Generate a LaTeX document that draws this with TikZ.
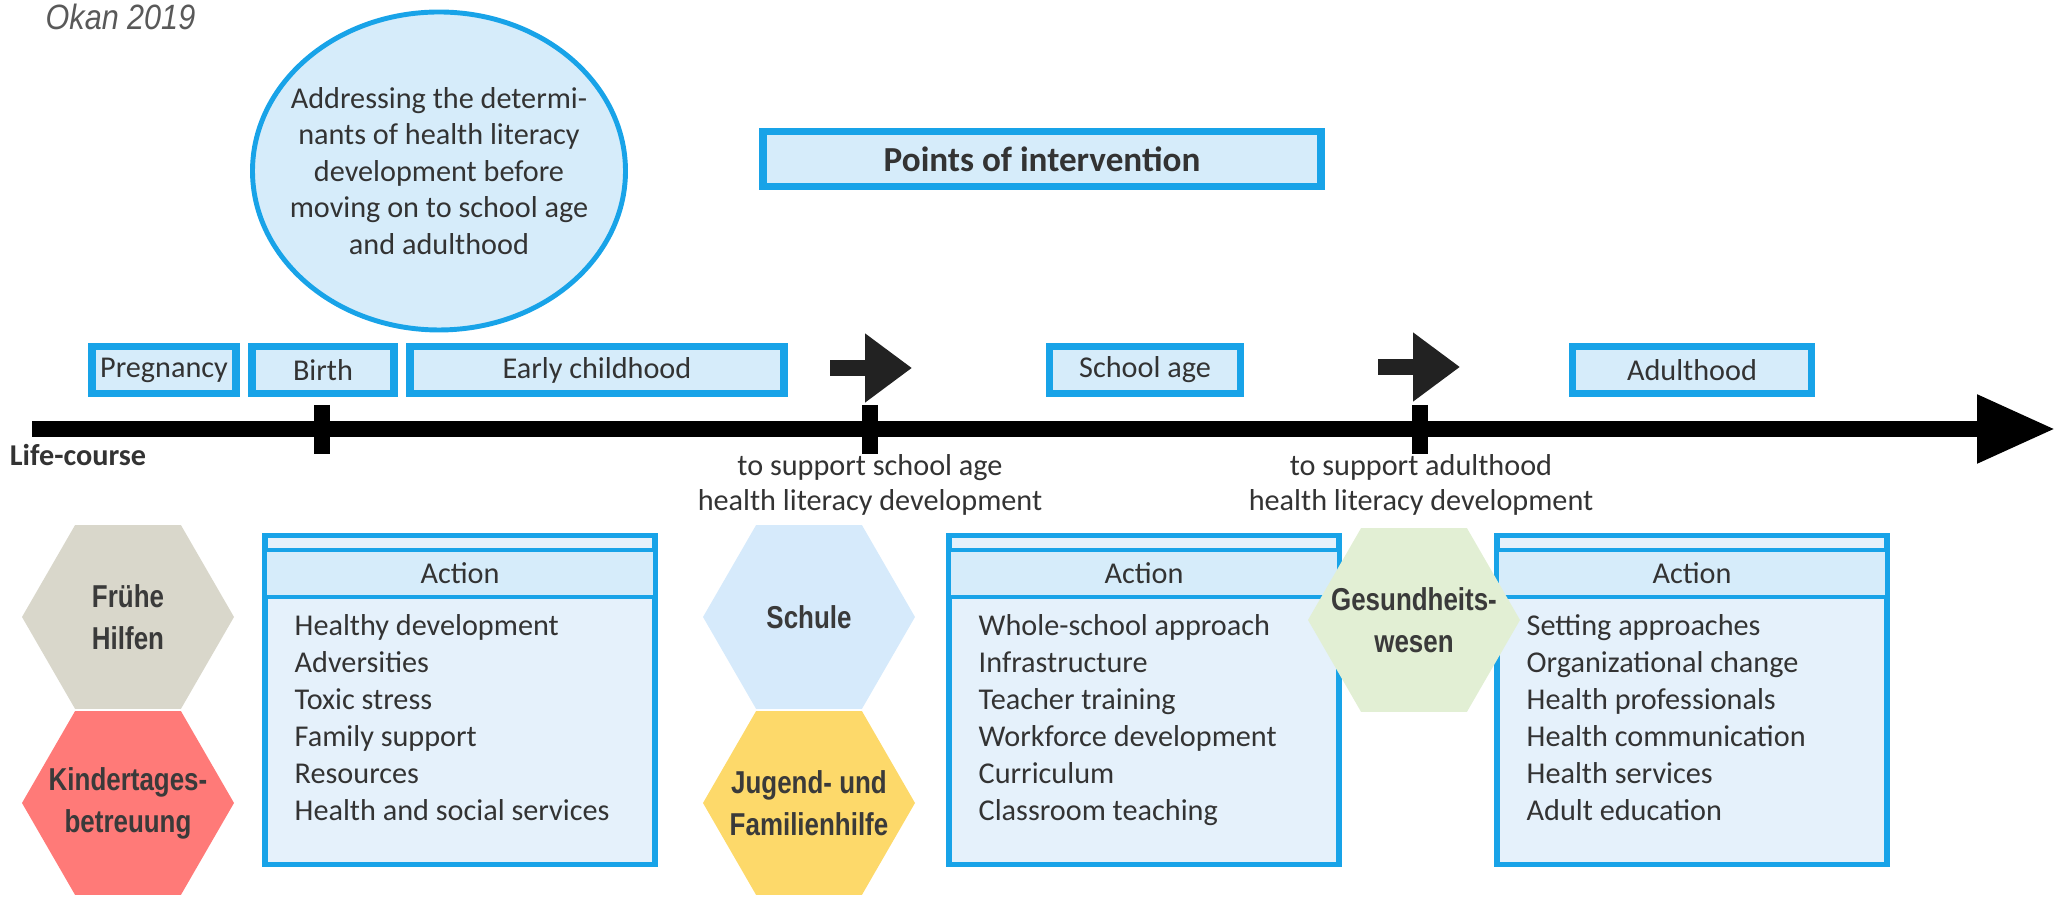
\documentclass[tikz,border=0pt]{standalone}
\usepackage{fontspec}
\setmainfont{Carlito}
\newfontfamily\narrowfont[FakeStretch=0.82]{Liberation Sans}
\newfontfamily\citefont[FakeStretch=0.87]{Liberation Sans}
\usepackage{tikz}
\usetikzlibrary{arrows.meta,shapes.geometric,positioning}
\usepackage{xcolor}
\definecolor{hlblue}{RGB}{24,163,232}
\definecolor{hllightblue}{RGB}{214,236,250}
\definecolor{hlpaleblue}{RGB}{229,241,251}
\definecolor{hltext}{RGB}{51,51,51}
\definecolor{hlarrow}{RGB}{34,34,34}
\definecolor{hexgray}{RGB}{58,58,58}
\definecolor{hexbeige}{RGB}{217,215,203}
\definecolor{hexred}{RGB}{255,122,120}
\definecolor{hexblue}{RGB}{214,234,251}
\definecolor{hexyellow}{RGB}{253,217,106}
\definecolor{hexgreen}{RGB}{226,239,212}
\tikzstyle{stage} = [rectangle, draw=hlblue, fill=hllightblue, line width=2pt, minimum height=4.7mm, inner sep=0pt, text=hltext, font=\fontsize{8.6}{10.4}\selectfont]
\tikzstyle{bubble} = [ellipse, draw=hlblue, fill=hllightblue, line width=1.4pt, minimum width=37.3mm, minimum height=31.8mm, inner sep=0pt]
\tikzstyle{bubbletext} = [align=center, inner sep=0pt, text=hltext, font=\fontsize{8.6}{10.4}\selectfont]
\tikzstyle{headline} = [rectangle, draw=hlblue, fill=hllightblue, line width=2pt, minimum width=55.8mm, minimum height=5.5mm, inner sep=0pt, text=hltext, font=\fontsize{10}{12}\selectfont\bfseries]
\tikzstyle{actionbox} = [rectangle, draw=hlblue, fill=hlpaleblue, line width=1.7pt, minimum width=39mm, minimum height=32.9mm, inner sep=0pt]
\tikzstyle{actionhead} = [rectangle, draw=hlblue, fill=hllightblue, line width=1.4pt, minimum width=39mm, minimum height=4.7mm, inner sep=0pt, text=hltext, font=\fontsize{8.6}{10.4}\selectfont]
\tikzstyle{actionlist} = [anchor=north west, align=left, inner sep=0pt, text=hltext, font=\fontsize{8.6}{10.5}\selectfont]
\tikzstyle{hexa} = [regular polygon, regular polygon sides=6, minimum size=21.2mm, inner sep=0pt]
\tikzstyle{hexlabel} = [align=center, inner sep=0pt, text=hexgray, font=\narrowfont\bfseries\fontsize{9}{12}\selectfont]
\tikzstyle{note} = [align=center, inner sep=0pt, text=hltext, font=\fontsize{8.6}{10.2}\selectfont]
\tikzstyle{timeline} = [line width=4.3pt, -{Triangle[length=7.8mm,width=6.5mm]}]
\tikzstyle{milestone} = [line width=4.3pt]
\tikzstyle{nudge} = [line width=4.5pt, color=hlarrow, -{Triangle[length=4.7mm,width=6.6mm]}]

\begin{document}
\begin{tikzpicture}[x=0.1mm, y=-0.1mm]
\useasboundingbox (0,0) rectangle (2061,901);

% Source
\node (okan) [anchor=west, inner sep=0pt, text=black!65, font=\citefont\itshape\fontsize{10}{12}\selectfont] at (45,17) {Okan 2019};

% Bubble and title
\node (determinants) [bubble] at (439,171) {};
\node (determinantstext) [bubbletext] at (determinants.center) {Addressing the determi-\\nants of health literacy\\development before\\moving on to school age\\and adulthood};
\node (points) [headline] at (1042,159) {Points of intervention};

% Life stages
\node (pregnancy) [stage, minimum width=14.4mm] at (164,370) {Pregnancy};
\node (birth) [stage, minimum width=14.2mm] at (323,370) {Birth};
\node (early) [stage, minimum width=37.4mm] at (597,370) {Early childhood};
\node (school) [stage, minimum width=19.1mm] at (1145,370) {School age};
\node (adult) [stage, minimum width=23.9mm] at (1692,370) {Adulthood};

% Life-course axis
\coordinate (lcstart) at (32,429);
\coordinate (lcend) at (2055,429);
\draw[timeline] (lcstart) -- (lcend);
\node (lifecourse) [note, font=\fontsize{8.6}{10.2}\selectfont\bfseries] at (78,455) {Life-course};

% Milestones
\coordinate (birthtop) at (322,405);
\coordinate (birthbot) at (322,454);
\coordinate (schooltop) at (870,405);
\coordinate (schoolbot) at (870,454);
\coordinate (adulttop) at (1420,405);
\coordinate (adultbot) at (1420,454);
\draw[milestone] (birthtop) -- (birthbot);
\draw[milestone] (schooltop) -- (schoolbot);
\draw[milestone] (adulttop) -- (adultbot);

% Transition arrows
\coordinate (toschoolA) at (830,368);
\coordinate (toschoolB) at (912,368);
\coordinate (toadultA) at (1378,367);
\coordinate (toadultB) at (1460,367);
\draw[nudge] (toschoolA) -- (toschoolB);
\draw[nudge] (toadultA) -- (toadultB);

\node (supportschool) [note] at (870,485) {to support school age\\health literacy development};
\node (supportadult) [note] at (1421,485) {to support adulthood\\health literacy development};

% Action boxes
\node (act1) [actionbox] at (460,700) {};
\node (act1head) [actionhead, below=1.5mm of act1.north] {Action};
\node (act1list) [actionlist] at (294,614) {Healthy development\\Adversities\\Toxic stress\\Family support\\Resources\\Health and social services};

\node (act2) [actionbox] at (1144,700) {};
\node (act2head) [actionhead, below=1.5mm of act2.north] {Action};
\node (act2list) [actionlist] at (978,614) {Whole-school approach\\Infrastructure\\Teacher training\\Workforce development\\Curriculum\\Classroom teaching};

\node (act3) [actionbox] at (1692,700) {};
\node (act3head) [actionhead, below=1.5mm of act3.north] {Action};
\node (act3list) [actionlist] at (1526,614) {Setting approaches\\Organizational change\\Health professionals\\Health communication\\Health services\\Adult education};

% Settings
\node (fruehe) [hexa, fill=hexbeige, label={[hexlabel]center:{Frühe\\Hilfen}}] at (128,617) {};
\node (kita) [hexa, fill=hexred, label={[hexlabel]center:{Kindertages-\\betreuung}}] at (128,803) {};
\node (schule) [hexa, fill=hexblue, label={[hexlabel]center:{Schule}}] at (809,617) {};
\node (jugend) [hexa, fill=hexyellow, label={[hexlabel]center:{Jugend- und\\Familienhilfe}}] at (809,803) {};
\node (gesundheit) [hexa, fill=hexgreen, label={[hexlabel]center:{Gesundheits-\\wesen}}] at (1414,620) {};
\end{tikzpicture}
\end{document}
